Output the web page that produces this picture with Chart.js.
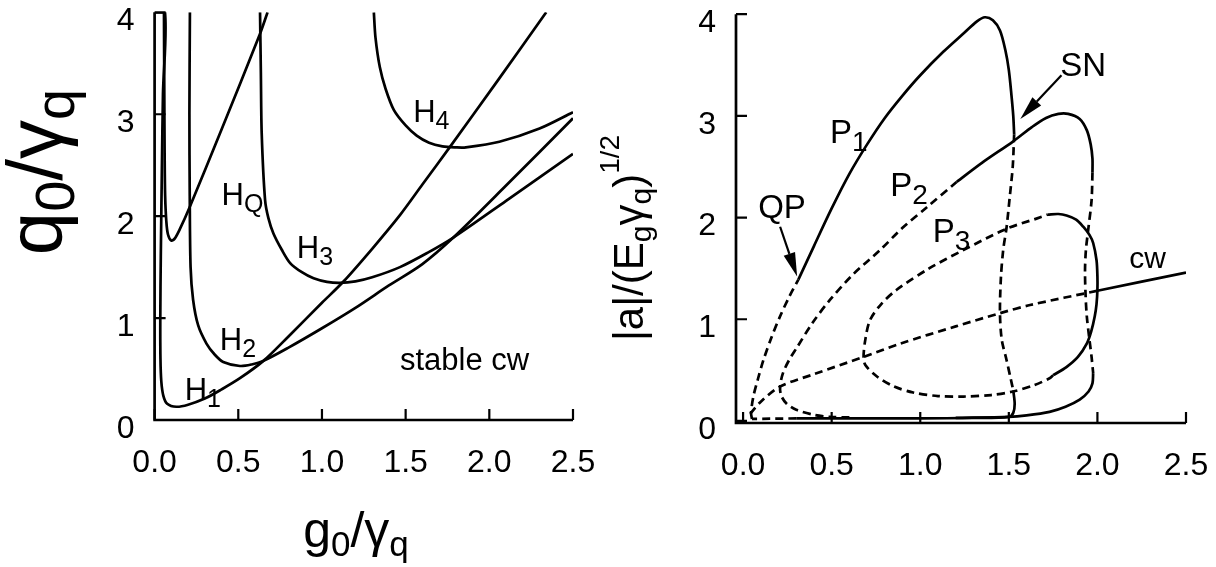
<!DOCTYPE html>
<html>
<head>
<meta charset="utf-8">
<script src="https://cdn.jsdelivr.net/npm/chart.js@4.4.1/dist/chart.umd.min.js"></script>
<style>
  html, body { margin: 0; padding: 0; background: #fff; }
  #wrap { position: relative; width: 1216px; height: 567px; overflow: hidden; }
  #left { position: absolute; left: 0; top: 0; }
  #right { position: absolute; left: 600px; top: 0; }
</style>
</head>
<body>
<div id="wrap">
  <canvas id="left" width="600" height="567"></canvas>
  <canvas id="right" width="616" height="567"></canvas>
</div>
<script>
// ---- left panel: instability boundaries (q0/γq vs g0/γq) ----
const leftXTicks = [0, 0.5, 1.0, 1.5, 2.0, 2.5];
const leftYTicks = [0, 1, 2, 3, 4];

const curveH1 = [[0, 4], [0.062, 4], [0.05, 3.2], [0.043, 2.4], [0.037, 1.6], [0.034, 1.0], [0.035, 0.6],
  [0.04, 0.38], [0.052, 0.24], [0.075, 0.16], [0.13, 0.13], [0.2, 0.15], [0.3, 0.21], [0.4, 0.3],
  [0.51, 0.41], [0.65, 0.58], [0.8, 0.82], [1.0, 1.15], [1.127, 1.356], [1.3, 1.68], [1.466, 2.01],
  [1.6, 2.31], [1.765, 2.68], [2.05, 3.33], [2.34, 4.0]];
const curveHQ = [[0.056, 4], [0.058, 3.2], [0.06, 2.6], [0.063, 2.2], [0.07, 1.95], [0.08, 1.82], [0.1, 1.76],
  [0.12, 1.78], [0.15, 1.87], [0.21, 2.09], [0.4, 2.85], [0.63, 3.79], [0.675, 4.0]];
const curveH2 = [[0.211, 4], [0.208, 3.0], [0.21, 2.2], [0.215, 1.5], [0.23, 1.18], [0.26, 0.93], [0.31, 0.75],
  [0.36, 0.64], [0.41, 0.57], [0.51, 0.53], [0.58, 0.545], [0.65, 0.58], [0.8, 0.71], [1.0, 0.9],
  [1.2, 1.1], [1.4, 1.32], [1.6, 1.53], [1.785, 1.79], [2.1, 2.3], [2.5, 2.96]];
const curveH3 = [[0.63, 4], [0.635, 3.4], [0.64, 2.81], [0.66, 2.16], [0.68, 1.98], [0.71, 1.83], [0.76, 1.67],
  [0.81, 1.54], [0.88, 1.45], [0.95, 1.39], [1.03, 1.355], [1.107, 1.345], [1.2, 1.36], [1.3, 1.4],
  [1.466, 1.5], [1.63, 1.64], [1.785, 1.79], [2.1, 2.15], [2.5, 2.61]];
const curveH4 = [[1.31, 4], [1.32, 3.75], [1.346, 3.46], [1.38, 3.25], [1.43, 3.04], [1.5, 2.89], [1.566, 2.79],
  [1.64, 2.72], [1.72, 2.685], [1.8, 2.675], [1.86, 2.675], [2.06, 2.73], [2.3, 2.86], [2.5, 3.02]];

// ---- right panel: branches of |a| ----
const rightXTicks = [0, 0.5, 1.0, 1.5, 2.0, 2.5];
const rightYTicks = [0, 1, 2, 3, 4];

const p1DashLow = [[0.05, 0.02], [0.045, 0.08], [0.058, 0.24], [0.085, 0.42], [0.115, 0.6], [0.16, 0.82],
  [0.209, 1.03], [0.26, 1.22], [0.312, 1.39]];
const p1SolidTop = [[0.312, 1.39], [0.4, 1.72], [0.5, 2.09], [0.6, 2.43], [0.7, 2.72], [0.8, 2.98],
  [0.9, 3.2], [1.0, 3.4], [1.13, 3.63], [1.25, 3.82], [1.32, 3.93], [1.365, 3.97], [1.41, 3.94],
  [1.45, 3.84], [1.48, 3.65], [1.5, 3.45], [1.515, 3.2], [1.525, 3.0], [1.53, 2.82]];
const p1DashSide = [[1.53, 2.82], [1.522, 2.5], [1.505, 2.2], [1.487, 1.9], [1.468, 1.68], [1.455, 1.4],
  [1.45, 1.06], [1.46, 0.8], [1.487, 0.6], [1.51, 0.42], [1.525, 0.3]];
const p1SolidBase = [[1.525, 0.3], [1.533, 0.17], [1.525, 0.08], [1.5, 0.04], [1.3, 0.03], [1.0, 0.025],
  [0.7, 0.025], [0.3, 0.025]];
const p1DashBase = [[0.3, 0.025], [0.05, 0.02]];

const p2DashUp = [[0.6, 0.035], [0.49, 0.04], [0.4, 0.06], [0.3, 0.11], [0.246, 0.17], [0.215, 0.25],
  [0.209, 0.34], [0.225, 0.47], [0.26, 0.6], [0.303, 0.72], [0.39, 0.96], [0.49, 1.19], [0.62, 1.44],
  [0.773, 1.68], [0.9, 1.9], [1.036, 2.1], [1.205, 2.35]];
const p2SolidTop = [[1.205, 2.35], [1.35, 2.54], [1.525, 2.75], [1.63, 2.89], [1.71, 2.98], [1.78, 3.02],
  [1.835, 3.02], [1.9, 2.97], [1.94, 2.86], [1.962, 2.72], [1.972, 2.58], [1.972, 2.44]];
const p2DashSide = [[1.972, 2.44], [1.967, 2.17], [1.948, 1.88], [1.935, 1.68], [1.93, 1.48], [1.933, 1.25],
  [1.94, 1.03], [1.955, 0.8], [1.967, 0.63], [1.976, 0.47]];
const p2SolidBase = [[1.976, 0.47], [1.972, 0.37], [1.95, 0.29], [1.9, 0.21], [1.82, 0.14], [1.73, 0.09],
  [1.6, 0.055], [1.5, 0.04], [1.2, 0.03]];

const p3Dash = [[1.75, 0.45], [1.73, 0.42], [1.64, 0.35], [1.525, 0.29], [1.4, 0.255], [1.243, 0.24],
  [1.1, 0.245], [0.96, 0.28], [0.85, 0.34], [0.754, 0.44], [0.69, 0.55], [0.68, 0.63], [0.69, 0.8],
  [0.716, 0.99], [0.78, 1.15], [0.867, 1.29], [1.05, 1.5], [1.243, 1.68], [1.487, 1.89], [1.656, 1.99],
  [1.72, 2.03]];
const p3Solid = [[1.72, 2.03], [1.78, 2.035], [1.826, 2.02], [1.88, 1.98], [1.92, 1.91], [1.955, 1.83],
  [1.976, 1.75], [1.995, 1.58], [2.0, 1.42], [2.0, 1.29], [1.995, 1.15], [1.985, 1.03], [1.965, 0.88],
  [1.94, 0.76], [1.89, 0.63], [1.825, 0.53], [1.75, 0.45]];

const cwDash = [[0.04, 0.07], [0.1, 0.19], [0.21, 0.34], [0.4, 0.46], [0.68, 0.63], [0.886, 0.76],
  [1.2, 0.93], [1.45, 1.06], [1.62, 1.14], [2.0, 1.28]];
const cwSolid = [[2.0, 1.28], [2.5, 1.46]];

// annotation arrows: [from, to] in data units
const qpArrow = [[0.209, 1.91], [0.305, 1.42]];
const snArrow = [[1.797, 3.4], [1.565, 2.97]];

const FONT = '"Liberation Sans", Arial, Helvetica, sans-serif';

function seg(points, dashed) {
  return {
    data: points.map(p => ({ x: p[0], y: p[1] })),
    showLine: true,
    borderColor: '#000',
    borderWidth: 2.7,
    borderDash: dashed ? [8, 5] : [],
    pointRadius: 0,
    tension: 0.3,
    fill: false
  };
}

function drawRich(ctx, x, y, parts, align) {
  let w = 0;
  parts.forEach(p => { ctx.font = p[1] + 'px ' + FONT; w += ctx.measureText(p[0]).width; });
  let cx = align === 'center' ? x - w / 2 : x;
  ctx.textAlign = 'left';
  ctx.textBaseline = 'alphabetic';
  parts.forEach(p => {
    ctx.font = p[1] + 'px ' + FONT;
    ctx.fillText(p[0], cx, y + (p[2] || 0));
    cx += ctx.measureText(p[0]).width;
  });
}

function drawArrow(ctx, x0, y0, x1, y1) {
  const ang = Math.atan2(y1 - y0, x1 - x0);
  const len = 24, half = 6;
  const bx = x1 - len * Math.cos(ang), by = y1 - len * Math.sin(ang);
  ctx.beginPath();
  ctx.moveTo(x0, y0); ctx.lineTo(bx, by);
  ctx.stroke();
  ctx.beginPath();
  ctx.moveTo(x1, y1);
  ctx.lineTo(bx + half * Math.sin(ang), by - half * Math.cos(ang));
  ctx.lineTo(bx - half * Math.sin(ang), by + half * Math.cos(ang));
  ctx.closePath();
  ctx.fill();
}

// axes with inward ticks, titles, curve labels and arrows
const decor = {
  id: 'decor',
  afterDraw(chart, args, o) {
    const { ctx, chartArea: a } = chart;
    const sx = chart.scales.x, sy = chart.scales.y;
    ctx.save();
    ctx.strokeStyle = '#000';
    ctx.fillStyle = '#000';
    ctx.lineWidth = 2.7;
    ctx.lineCap = 'butt';
    ctx.beginPath();
    ctx.moveTo(a.left, a.top);
    ctx.lineTo(a.left, a.bottom);
    ctx.lineTo(a.right, a.bottom);
    ctx.stroke();

    ctx.lineWidth = 2.2;
    ctx.beginPath();
    o.xTicks.forEach(v => {
      const px = sx.getPixelForValue(v);
      ctx.moveTo(px, a.bottom); ctx.lineTo(px, a.bottom - 11);
    });
    o.yTicks.forEach(v => {
      const py = sy.getPixelForValue(v);
      ctx.moveTo(a.left, py); ctx.lineTo(a.left + 11, py);
    });
    ctx.stroke();

    (o.labels || []).forEach(l => {
      drawRich(ctx, sx.getPixelForValue(l.x), sy.getPixelForValue(l.y), l.parts, 'left');
    });

    ctx.lineWidth = 2.2;
    (o.arrows || []).forEach(ar => {
      drawArrow(ctx, sx.getPixelForValue(ar[0][0]), sy.getPixelForValue(ar[0][1]),
        sx.getPixelForValue(ar[1][0]), sy.getPixelForValue(ar[1][1]));
    });

    drawRich(ctx, o.xTitle.cx, o.xTitle.base, o.xTitle.parts, 'center');
    ctx.translate(o.yTitle.base, o.yTitle.cy);
    ctx.rotate(-Math.PI / 2);
    drawRich(ctx, 0, 0, o.yTitle.parts, 'center');
    ctx.restore();
  }
};

function makeOptions(cfg) {
  return {
    responsive: false,
    animation: false,
    layout: { padding: cfg.padding },
    plugins: { legend: { display: false }, tooltip: { enabled: false }, decor: cfg.decor },
    scales: {
      x: {
        type: 'linear', min: cfg.xMin, max: 2.5,
        grid: { display: false, drawTicks: false },
        border: { display: false },
        afterBuildTicks: s => { s.ticks = cfg.decor.xTicks.map(v => ({ value: v })); },
        afterFit: s => { s.height = cfg.xHeight; s.paddingLeft = 0; s.paddingRight = 0; },
        ticks: { color: '#000', padding: 24, font: { family: FONT, size: 32 }, callback: v => v.toFixed(1) }
      },
      y: {
        type: 'linear', min: cfg.yMin, max: 4,
        grid: { display: false, drawTicks: false },
        border: { display: false },
        afterBuildTicks: s => { s.ticks = cfg.decor.yTicks.map(v => ({ value: v })); },
        afterFit: s => { s.width = cfg.yWidth; s.paddingTop = 0; s.paddingBottom = 0; },
        ticks: { color: '#000', padding: 20, labelOffset: 9, font: { family: FONT, size: 32 }, callback: v => String(v) }
      }
    }
  };
}

const sub = (t, s, d) => [t, s, d];

new Chart(document.getElementById('left'), {
  type: 'scatter',
  data: { datasets: [curveH1, curveHQ, curveH2, curveH3, curveH4].map(c => seg(c, false)) },
  options: makeOptions({
    padding: { left: 0, right: 27, top: 12.3, bottom: 0 },
    xMin: 0, yMin: 0, xHeight: 147, yWidth: 154.6,
    decor: {
      xTicks: leftXTicks, yTicks: leftYTicks,
      labels: [
        { x: 0.18, y: 0.2, parts: [['H', 31], sub('1', 25, 7)] },
        { x: 0.39, y: 0.69, parts: [['H', 31], sub('2', 25, 7)] },
        { x: 0.85, y: 1.59, parts: [['H', 31], sub('3', 25, 7)] },
        { x: 0.40, y: 2.11, parts: [['H', 31], sub('Q', 25, 7)] },
        { x: 1.545, y: 2.92, parts: [['H', 31], sub('4', 25, 7)] },
        { x: 1.466, y: 0.49, parts: [['stable cw', 31]] }
      ],
      xTitle: { cx: 356, base: 547, parts: [['g', 50], sub('0', 35, 9), ['/', 50], ['γ', 50], sub('q', 35, 9)] },
      yTitle: { base: 62, cy: 172, parts: [['q', 78], sub('0', 56, 12), ['/', 78], ['γ', 78], sub('q', 56, 12)] }
    }
  }),
  plugins: [decor]
});

new Chart(document.getElementById('right'), {
  type: 'scatter',
  data: {
    datasets: [
      seg(p1DashLow, true), seg(p1SolidTop, false), seg(p1DashSide, true), seg(p1SolidBase, false), seg(p1DashBase, true),
      seg(p2DashUp, true), seg(p2SolidTop, false), seg(p2DashSide, true), seg(p2SolidBase, false),
      seg(p3Dash, true), seg(p3Solid, false),
      seg(cwDash, true), seg(cwSolid, false)
    ]
  },
  options: makeOptions({
    padding: { left: 0, right: 30, top: 14.2, bottom: 0 },
    xMin: -0.04, yMin: -0.02, xHeight: 144, yWidth: 136,
    decor: {
      xTicks: rightXTicks, yTicks: rightYTicks,
      labels: [
        { x: 0.49, y: 2.73, parts: [['P', 33], sub('1', 28, 8)] },
        { x: 0.83, y: 2.21, parts: [['P', 33], sub('2', 28, 8)] },
        { x: 1.07, y: 1.76, parts: [['P', 33], sub('3', 28, 8)] },
        { x: 0.085, y: 2.0, parts: [['QP', 33]] },
        { x: 1.79, y: 3.39, parts: [['SN', 33]] },
        { x: 2.18, y: 1.5, parts: [['cw', 30]] }
      ],
      arrows: [qpArrow, snArrow],
      xTitle: { cx: 955, base: 547, parts: [['g', 50], sub('0', 35, 9), ['/', 50], ['γ', 50], sub('q', 35, 9)] },
      yTitle: { base: 43, cy: 238, parts: [['|a|/(E', 42], sub('g', 30, 8), ['γ', 42], sub('q', 30, 8), [')', 42], sub('1/2', 28, -24)] }
    }
  }),
  plugins: [decor]
});
</script>
</body>
</html>
